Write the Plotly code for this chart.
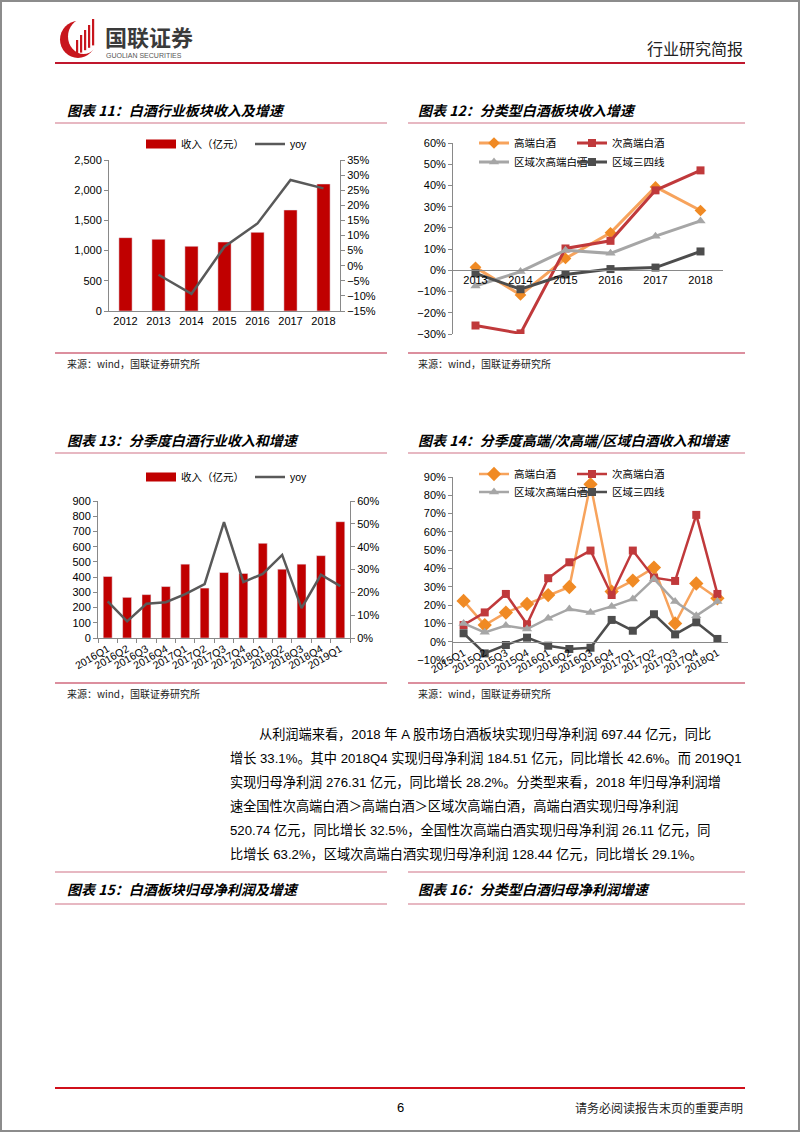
import plotly.graph_objects as go

W, H = 802, 1133
FONT = "Liberation Sans, Arial, Noto Sans CJK SC"
CJK = "Noto Sans CJK SC"


def px(x):
    return x / W


def py(y):
    return 1 - y / H


# ---- data ----
years_11 = ['2012', '2013', '2014', '2015', '2016', '2017', '2018']
revenue_11 = [1214, 1187, 1071, 1142, 1302, 1672, 2103]
yoy_11 = [None, -3.0, -9.3, 6.3, 14.0, 28.4, 25.6]

years_12 = ['2013', '2014', '2015', '2016', '2017', '2018']
high_12 = [1.4, -11.6, 5.6, 17.7, 39.3, 28.2]
subhigh_12 = [-26.0, -29.7, 10.3, 13.9, 37.7, 47.1]
region_sub_12 = [-7.4, -0.6, 9.5, 8.0, 16.1, 23.3]
region_low_12 = [-1.4, -8.9, -2.0, 0.6, 1.3, 8.9]

quarters_13 = ['2016Q1', '2016Q2', '2016Q3', '2016Q4', '2017Q1', '2017Q2', '2017Q3',
               '2017Q4', '2018Q1', '2018Q2', '2018Q3', '2018Q4', '2019Q1']
revenue_13 = [404, 267, 285, 338, 485, 328, 430, 424, 622, 452, 485, 541, 764]
yoy_13 = [16.0, 7.3, 15.0, 15.7, 19.2, 23.6, 50.7, 24.5, 28.1, 36.4, 13.1, 27.7, 22.7]

quarters_14 = ['2015Q1', '2015Q2', '2015Q3', '2015Q4', '2016Q1', '2016Q2', '2016Q3',
               '2016Q4', '2017Q1', '2017Q2', '2017Q3', '2017Q4', '2018Q1']
high_14 = [22.3, 9.1, 15.9, 20.6, 25.5, 29.9, 86.0, 27.4, 33.4, 40.5, 10.0, 31.8, 23.7]
subhigh_14 = [9.1, 16.0, 26.1, 9.5, 34.7, 43.4, 49.8, 25.5, 49.8, 35.0, 33.2, 69.3, 26.1]
region_sub_14 = [10.0, 5.1, 8.8, 6.9, 12.8, 17.9, 15.9, 19.3, 23.4, 34.3, 21.9, 14.2, 21.9]
region_low_14 = [4.6, -6.4, -1.8, 2.2, -2.2, -4.0, -3.3, 11.9, 6.0, 15.0, 4.0, 10.6, 1.5]

series_names = ['高端白酒', '次高端白酒', '区域次高端白酒', '区域三四线']

RED = '#C00000'
YOY = '#595959'
styles = [
    dict(line='#F7A35C', marker='#F08A24', symbol='diamond', size=9),
    dict(line='#C0393B', marker='#C0393B', symbol='square', size=8),
    dict(line='#A6A6A6', marker='#A6A6A6', symbol='triangle-up', size=9),
    dict(line='#4D4D4D', marker='#4D4D4D', symbol='square', size=8),
]

fig = go.Figure()

# ---- chart 11 ----
fig.add_trace(go.Bar(x=years_11, y=revenue_11, marker_color=RED, width=0.4,
                     xaxis='x', yaxis='y', showlegend=False))
fig.add_trace(go.Scatter(x=[None], y=[None], mode='lines', line=dict(color=RED, width=9),
                         name='收入（亿元）', legend='legend', xaxis='x', yaxis='y'))
fig.add_trace(go.Scatter(x=years_11, y=yoy_11, mode='lines', line=dict(color=YOY, width=2.5),
                         name='yoy', legend='legend2', xaxis='x', yaxis='y2'))

# ---- chart 12 ----
for i, vals in enumerate([high_12, subhigh_12, region_sub_12, region_low_12]):
    s = styles[i]
    fig.add_trace(go.Scatter(
        x=years_12, y=vals, mode='lines+markers', name=series_names[i],
        line=dict(color=s['line'], width=3),
        marker=dict(symbol=s['symbol'], size=s['size'], color=s['marker']),
        legend='legend%d' % (3 + i), xaxis='x2', yaxis='y3'))

# ---- chart 13 ----
fig.add_trace(go.Bar(x=quarters_13, y=revenue_13, marker_color=RED, width=0.46,
                     xaxis='x3', yaxis='y4', showlegend=False))
fig.add_trace(go.Scatter(x=[None], y=[None], mode='lines', line=dict(color=RED, width=9),
                         name='收入（亿元）', legend='legend7', xaxis='x3', yaxis='y4'))
fig.add_trace(go.Scatter(x=quarters_13, y=yoy_13, mode='lines', line=dict(color=YOY, width=2.5),
                         name='yoy', legend='legend8', xaxis='x3', yaxis='y5'))

# ---- chart 14 ----
for i, vals in enumerate([high_14, subhigh_14, region_sub_14, region_low_14]):
    s = styles[i]
    fig.add_trace(go.Scatter(
        x=quarters_14, y=vals, mode='lines+markers', name=series_names[i],
        line=dict(color=s['line'], width=2.5),
        marker=dict(symbol=s['symbol'], size=s['size'] + (2 if i == 0 else 0), color=s['marker']),
        legend='legend%d' % (9 + i), xaxis='x4', yaxis='y6'))

axis_base = dict(showline=True, linecolor='#898989', linewidth=1, ticks='outside', ticklen=4,
                 tickcolor='#898989', showgrid=False, zeroline=False, automargin=False,
                 tickfont=dict(size=11, color='#000', family=FONT))

layout = dict(
    width=W, height=H, autosize=False,
    margin=dict(l=0, r=0, t=0, b=0, pad=0, autoexpand=False),
    paper_bgcolor='white', plot_bgcolor='rgba(0,0,0,0)',
    font=dict(family=FONT, color='#000', size=11),
    xaxis=dict(axis_base, domain=[px(109), px(340)], anchor='y', type='category',
               range=[-0.5, 6.5], ticks=''),
    yaxis=dict(axis_base, domain=[py(311), py(160)], anchor='x', range=[0, 2500],
               dtick=500, tickformat=',d'),
    yaxis2=dict(axis_base, overlaying='y', side='right', anchor='x', range=[-15, 35],
                dtick=5, ticksuffix='%'),
    xaxis2=dict(axis_base, domain=[px(453), px(723)], anchor='free', position=py(269.5),
                type='category', range=[-0.5, 5.5], ticks=''),
    yaxis3=dict(axis_base, domain=[py(334), py(143)], anchor='x2', range=[-30, 60],
                dtick=10, ticksuffix='%'),
    xaxis3=dict(axis_base, domain=[px(98), px(350)], anchor='y4', type='category',
                range=[-0.5, 12.5], tickangle=-30, tickson='boundaries',
                tickfont=dict(size=10.5, color='#000', family=FONT)),
    yaxis4=dict(axis_base, domain=[py(638), py(501)], anchor='x3', range=[0, 900], dtick=100),
    yaxis5=dict(axis_base, overlaying='y4', side='right', anchor='x3', range=[0, 60],
                dtick=10, ticksuffix='%'),
    xaxis4=dict(axis_base, domain=[px(453), px(728)], anchor='free', position=py(642),
                type='category', range=[-0.5, 12.5], tickangle=-30, ticks='',
                tickfont=dict(size=10.5, color='#000', family=FONT)),
    yaxis6=dict(axis_base, domain=[py(660), py(477)], anchor='x4', range=[-10, 90],
                dtick=10, ticksuffix='%'),
)

legend_pos = {
    'legend': (141, 144), 'legend2': (250, 144),
    'legend3': (474, 143), 'legend4': (572, 143), 'legend5': (474, 162), 'legend6': (572, 162),
    'legend7': (141, 477), 'legend8': (250, 477),
    'legend9': (474, 474), 'legend10': (572, 474), 'legend11': (474, 492), 'legend12': (572, 492),
}
for key, (lx, ly) in legend_pos.items():
    layout[key] = dict(x=px(lx), y=py(ly), xanchor='left', yanchor='middle',
                       bgcolor='rgba(0,0,0,0)', borderwidth=0,
                       font=dict(size=10.5, family=FONT, color='#000'))

fig.update_layout(**layout)

shapes = []
annotations = []


def hline(x0, x1, y, color, width):
    shapes.append(dict(type='line', xref='paper', yref='paper', x0=px(x0), x1=px(x1),
                       y0=py(y), y1=py(y), line=dict(color=color, width=width)))


def text(x, y, s, size, anchor='left', family=FONT, color='#000'):
    annotations.append(dict(xref='paper', yref='paper', x=px(x), y=py(y), text=s,
                            showarrow=False, xanchor=anchor, yanchor='middle',
                            font=dict(size=size, family=family, color=color)))


# page frame
shapes.append(dict(type='rect', xref='paper', yref='paper', x0=px(1), x1=px(799),
                   y0=py(1131), y1=py(1), line=dict(color='#8C8C8C', width=2)))

# header
shapes.append(dict(type='circle', xref='paper', yref='paper', x0=px(60), x1=px(96),
                   y0=py(58), y1=py(21), fillcolor='#C8161D', line=dict(width=0)))
shapes.append(dict(type='circle', xref='paper', yref='paper', x0=px(68), x1=px(99),
                   y0=py(54), y1=py(19), fillcolor='white', line=dict(width=0)))
for bx, top in [(76, 40), (80, 35), (84, 30), (88, 25), (92, 19)]:
    shapes.append(dict(type='rect', xref='paper', yref='paper', x0=px(bx), x1=px(bx + 2.2),
                       y0=py(55 - (bx - 76) * 0.6), y1=py(top), fillcolor='#C8161D',
                       line=dict(width=0)))
text(103, 36, '<b>国联证券</b>', 22, family=CJK, color='#3A3A3A')
text(104, 56, 'GUOLIAN SECURITIES', 7, color='#555')
text(745, 48, '行业研究简报', 16, anchor='right', family=CJK, color='#222')
hline(55, 745, 63, '#C0172D', 2)

# chart frames
TITLE_LINE = '#DFA0AE'
SRC_LINE = '#D06A7E'
blocks = [
    (67, 55, 387, 110, '图表 11：白酒行业板块收入及增速'),
    (418, 408, 745, 110, '图表 12：分类型白酒板块收入增速'),
    (67, 55, 387, 440, '图表 13：分季度白酒行业收入和增速'),
    (418, 408, 745, 440, '图表 14：分季度高端/次高端/区域白酒收入和增速'),
]
for tx, l0, l1, ty, title in blocks:
    text(tx - 2, ty, '<b><i>' + title + '</i></b>', 14, family=CJK)
    hline(l0, l1, ty + 13, TITLE_LINE, 1.5)
    hline(l0, l1, ty + 243, SRC_LINE, 1.5)
    text(tx - 2, ty + 253, '来源：wind，国联证券研究所', 10, family=CJK, color='#222')

# paragraph
para_lines = [
    '从利润端来看，2018 年 A 股市场白酒板块实现归母净利润 697.44 亿元，同比',
    '增长 33.1%。其中 2018Q4 实现归母净利润 184.51 亿元，同比增长 42.6%。而 2019Q1',
    '实现归母净利润 276.31 亿元，同比增长 28.2%。分类型来看，2018 年归母净利润增',
    '速全国性次高端白酒＞高端白酒＞区域次高端白酒，高端白酒实现归母净利润',
    '520.74 亿元，同比增长 32.5%，全国性次高端白酒实现归母净利润 26.11 亿元，同',
    '比增长 63.2%，区域次高端白酒实现归母净利润 128.44 亿元，同比增长 29.1%。',
]
for k, line in enumerate(para_lines):
    text(257 if k == 0 else 228, 734 + 24 * k, line, 13.2)

# figures 15/16 headers
for tx, l0, l1, title in [(67, 55, 387, '图表 15：白酒板块归母净利润及增速'),
                          (418, 408, 745, '图表 16：分类型白酒归母净利润增速')]:
    hline(l0, l1, 872, TITLE_LINE, 1.5)
    text(tx - 2, 889, '<b><i>' + title + '</i></b>', 14, family=CJK)
    hline(l0, l1, 904, TITLE_LINE, 1.5)

# footer
hline(55, 745, 1088, '#D0101B', 2)
text(400, 1107, '6', 13, anchor='center')
text(745, 1107, '请务必阅读报告末页的重要声明', 12, anchor='right', family=CJK, color='#222')

fig.update_layout(shapes=shapes, annotations=annotations)
fig.write_html("out.html", config={'displayModeBar': False},
               post_script="document.body.style.margin='0';document.body.style.overflow='hidden';")
